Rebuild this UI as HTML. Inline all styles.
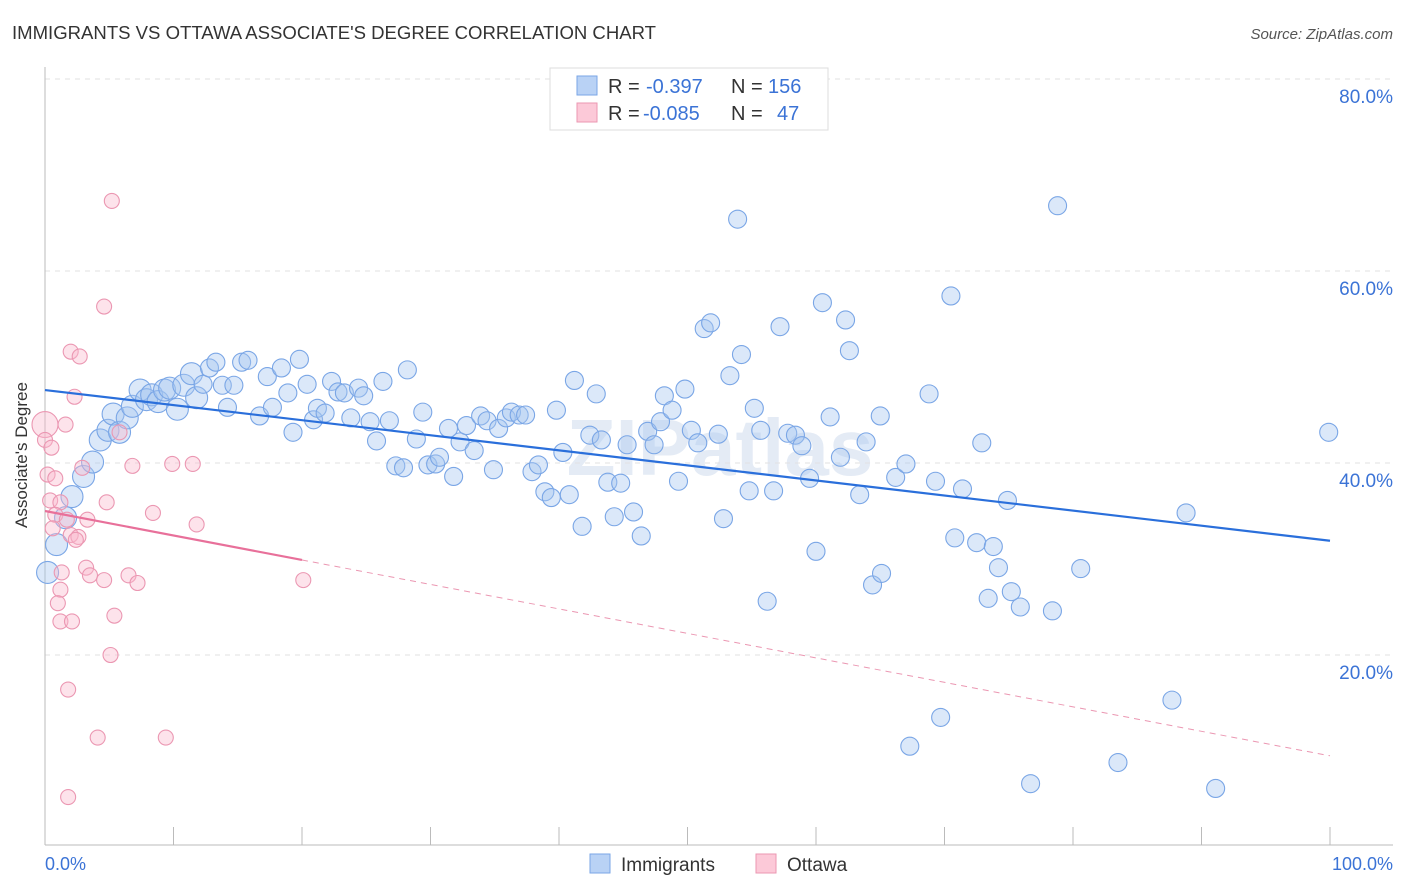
<!DOCTYPE html>
<html><head><meta charset="utf-8"><style>
body{margin:0;background:#fff;font-family:"Liberation Sans",sans-serif;}
svg{display:block}
</style></head><body>
<svg id="c" width="1406" height="892" xmlns="http://www.w3.org/2000/svg">
<text x="12" y="39" font-size="18" fill="#333" textLength="644" lengthAdjust="spacingAndGlyphs">IMMIGRANTS VS OTTAWA ASSOCIATE'S DEGREE CORRELATION CHART</text>
<text x="1393" y="39" font-size="15" fill="#555" font-style="italic" text-anchor="end">Source: ZipAtlas.com</text>
<text x="720" y="475" font-size="80" fill="#e4ebf5" text-anchor="middle" font-weight="bold">ZIPatlas</text>
<g id="grid"></g>
<g id="axes"></g>
<g id="pts"></g>
<g id="lines"></g>
<text x="27" y="455" font-size="17" fill="#333" text-anchor="middle" transform="rotate(-90 27 455)">Associate's Degree</text>
<text x="45" y="870" font-size="18" fill="#3b73d6">0.0%</text>
<text x="1393" y="870" font-size="18" fill="#3b73d6" text-anchor="end">100.0%</text>
<g>
<rect x="550" y="68" width="278" height="62" fill="#fff" stroke="#ddd"/>
<rect x="577" y="76" width="20" height="19" fill="#b9d2f5" stroke="#7aa6e6"/>
<rect x="577" y="103" width="20" height="19" fill="#fcc9d8" stroke="#eb97b2"/>
<text x="608" y="93" font-size="20" fill="#333">R = <tspan x="646" fill="#3b73d6">-0.397</tspan><tspan x="731">N = </tspan><tspan fill="#3b73d6" x="768">156</tspan></text>
<text x="608" y="120" font-size="20" fill="#333">R = <tspan x="643" fill="#3b73d6">-0.085</tspan><tspan x="731">N = </tspan><tspan fill="#3b73d6" x="777">47</tspan></text>
</g>
<g>
<rect x="590" y="854" width="20" height="19" fill="#b9d2f5" stroke="#7aa6e6"/>
<text x="621" y="871" font-size="19" fill="#333">Immigrants</text>
<rect x="756" y="854" width="20" height="19" fill="#fcc9d8" stroke="#eb97b2"/>
<text x="787" y="871" font-size="19" fill="#333">Ottawa</text>
</g>
</svg>
<script>
const yTicks=[20,40,60,80];
const yTickLabels=["20.0%","40.0%","60.0%","80.0%"];
const xTicks=[0,10,20,30,40,50,60,70,80,90,100];
const blueX=[0.2,0.9,1.6,2.1,3.0,3.7,4.3,4.9,5.3,5.8,6.4,6.8,7.4,7.9,8.3,8.8,9.3,9.7,10.3,10.8,11.4,11.8,12.3,12.8,13.3,13.8,14.2,14.7,15.3,15.8,16.7,17.3,17.7,18.4,18.9,19.3,19.8,20.4,20.9,21.2,21.8,22.3,22.8,23.3,23.8,24.4,24.8,25.3,25.8,26.3,26.8,27.3,27.9,28.2,28.9,29.4,29.8,30.4,30.7,31.4,31.8,32.3,32.8,33.4,33.9,34.4,34.9,35.3,35.9,36.3,36.9,37.4,37.9,38.4,38.9,39.4,39.8,40.3,40.8,41.2,41.8,42.4,42.9,43.3,43.8,44.3,44.8,45.3,45.8,46.4,46.9,47.4,47.9,48.2,48.8,49.3,49.8,50.3,50.8,51.3,51.8,52.4,52.8,53.3,53.9,54.2,54.8,55.2,55.7,56.2,56.7,57.2,57.8,58.4,58.9,59.5,60.0,60.5,61.1,61.9,62.3,62.6,63.4,63.9,64.4,65.0,65.1,66.2,67.0,67.3,68.8,69.3,69.7,70.5,70.8,71.4,72.5,72.9,73.4,73.8,74.2,74.9,75.2,75.9,76.7,78.4,78.8,80.6,83.5,87.7,88.8,91.1,99.9];
const blueY=[28.6,31.5,34.3,36.5,38.6,40.1,42.4,43.4,45.1,43.2,44.7,45.9,47.6,46.6,47.1,46.4,47.6,47.8,45.6,48.1,49.3,46.8,48.2,49.9,50.5,48.1,45.8,48.1,50.5,50.7,44.9,49.0,45.8,49.9,47.3,43.2,50.8,48.2,44.5,45.7,45.2,48.5,47.4,47.3,44.7,47.8,47.0,44.3,42.3,48.5,44.4,39.7,39.5,49.7,42.5,45.3,39.8,39.9,40.6,43.6,38.6,42.2,43.9,41.3,44.9,44.4,39.3,43.6,44.7,45.3,45.0,45.0,39.1,39.8,37.0,36.4,45.5,41.1,36.7,48.6,33.4,42.9,47.2,42.4,38.0,34.4,37.9,41.9,34.9,32.4,43.3,41.9,44.3,47.0,45.5,38.1,47.7,43.4,42.1,54.0,54.6,43.0,34.2,49.1,65.4,51.3,37.1,45.7,43.4,25.6,37.1,54.2,43.1,42.9,41.8,38.4,30.8,56.7,44.8,40.6,54.9,51.7,36.7,42.2,27.3,44.9,28.5,38.5,39.9,10.5,47.2,38.1,13.5,57.4,32.2,37.3,31.7,42.1,25.9,31.3,29.1,36.1,26.6,25.0,6.6,24.6,66.8,29.0,8.8,15.3,34.8,6.1,43.2];
const pinkX=[0,0,0.5,0.2,0.8,0.4,1.2,0.8,1.7,0.6,2.0,1.3,1.2,1.0,1.2,2.1,1.6,2.0,2.7,2.3,2.9,2.6,3.3,3.2,3.5,4.6,4.8,5.2,4.6,5.8,6.8,6.5,7.2,8.4,9.9,11.5,11.8,5.4,5.1,1.8,4.1,9.4,1.8,20.1,2.4];
const pinkY=[44,42.4,41.6,38.8,38.4,36.1,35.9,34.6,34.1,33.2,32.5,28.6,26.8,25.4,23.5,23.5,44.0,51.6,51.1,46.9,39.5,32.3,34.1,29.1,28.3,27.8,35.9,67.3,56.3,43.2,39.7,28.3,27.5,34.8,39.9,39.9,33.6,24.1,20.0,16.4,11.4,11.4,5.2,27.8,32.0];
const blueTrend=[47.6,31.9];
const pinkTrend=[35.0,9.5];
const pinkSolidEnd=20;
const NS="http://www.w3.org/2000/svg";
const X=v=>45+v*12.85, Y=v=>847-v*9.6;
function mk(tag,attrs,parent){const e=document.createElementNS(NS,tag);for(const k in attrs)e.setAttribute(k,attrs[k]);parent.appendChild(e);return e;}
const grid=document.getElementById('grid'),axes=document.getElementById('axes'),pts=document.getElementById('pts'),lines=document.getElementById('lines');
yTicks.forEach((t,i)=>{
 const l=mk('line',{x1:45,x2:1393,y1:Y(t),y2:Y(t),stroke:'#e2e2e2','stroke-dasharray':'5,5'},grid);
 
 
 const tx=mk('text',{x:1393,y:Y(t)+24,'font-size':19,fill:'#3b73d6','text-anchor':'end'},grid);
 tx.textContent=yTickLabels[i];
 
 
});
const ax=mk('line',{x1:45,x2:1393,y1:845,y2:845,stroke:'#bbb'},axes);


const ay=mk('line',{x1:45,x2:45,y1:67,y2:845,stroke:'#bbb'},axes);


xTicks.forEach(t=>{
 const l=mk('line',{x1:X(t),x2:X(t),y1:827,y2:845,stroke:'#bbb'},axes);
 
 
});
blueX.forEach((x,i)=>{
 const r=x<12?11:9;
 const c=mk('circle',{cx:X(x),cy:Y(blueY[i]),r:r,fill:'rgba(165,198,240,0.4)',stroke:'#7aa6e6','stroke-width':1.1},pts);
 
 
});
pinkX.forEach((x,i)=>{
 const c=mk('circle',{cx:X(x),cy:Y(pinkY[i]),r:i===0?13:7.5,fill:'rgba(250,185,205,0.4)',stroke:'#eb97b2','stroke-width':1.1},pts);
 
 
});
const bl=mk('line',{x1:X(0),y1:Y(blueTrend[0]),x2:X(100),y2:Y(blueTrend[1]),stroke:'#2a6fdb','stroke-width':2.2},lines);


const pm=pinkTrend[0]+(pinkTrend[1]-pinkTrend[0])*pinkSolidEnd/100;
const ps=mk('line',{x1:X(0),y1:Y(pinkTrend[0]),x2:X(pinkSolidEnd),y2:Y(pm),stroke:'#e8709a','stroke-width':2.2},lines);


const pd=mk('line',{x1:X(pinkSolidEnd),y1:Y(pm),x2:X(100),y2:Y(pinkTrend[1]),stroke:'#eb97b2','stroke-width':1,'stroke-dasharray':'6,5'},lines);


</script>
</body></html>
